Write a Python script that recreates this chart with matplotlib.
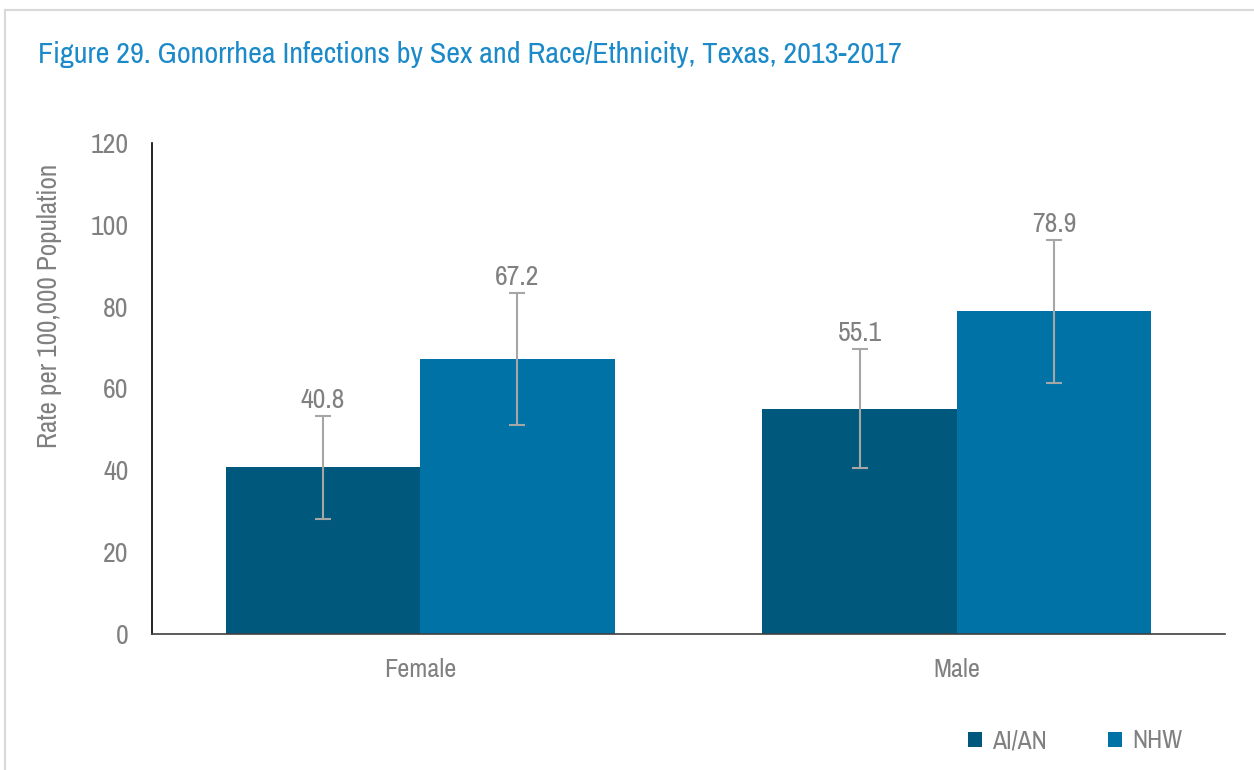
import matplotlib
matplotlib.use("Agg")
import matplotlib.pyplot as plt
from matplotlib.lines import Line2D
from matplotlib import font_manager
import numpy as np

categories = ["Female", "Male"]
series = ["AI/AN", "NHW"]
aian_values = [40.8, 55.1]
nhw_values = [67.2, 78.9]
aian_low = [28.2, 40.5]
aian_high = [53.3, 69.6]
nhw_low = [51.1, 61.4]
nhw_high = [83.3, 96.3]
yticks = [0, 20, 40, 60, 80, 100, 120]

names = sorted({f.name for f in font_manager.fontManager.ttflist})
narrow = [n for n in names if "Narrow" in n or "Condensed" in n]
fam = (narrow[:1] if narrow else []) + ['DejaVu Sans']
plt.rcParams['font.family'] = fam
plt.rcParams['font.stretch'] = 'condensed'

c_aian = "#00587C"
c_nhw = "#0072A6"
gray = "#808080"

fig = plt.figure(figsize=(12.54, 7.7), dpi=100)
fig.add_artist(Line2D([5/1254, 1], [1 - 10/770, 1 - 10/770], transform=fig.transFigure,
                      color="#D9D9D9", linewidth=1.5))
fig.add_artist(Line2D([5/1254, 5/1254], [0, 1 - 10/770], transform=fig.transFigure,
                      color="#D9D9D9", linewidth=1.5))
ax = fig.add_axes([152/1254, 1 - 634/770, (1225 - 152)/1254, (634 - 143)/770])

x = np.arange(len(categories))
w = 0.3625
b1 = ax.bar(x - w/2, aian_values, w, color=c_aian, label=series[0])
b2 = ax.bar(x + w/2, nhw_values, w, color=c_nhw, label=series[1])

for xs, vals, lo, hi in [(x - w/2, aian_values, aian_low, aian_high),
                         (x + w/2, nhw_values, nhw_low, nhw_high)]:
    vals = np.array(vals)
    yerr = np.array([vals - np.array(lo), np.array(hi) - vals])
    ax.errorbar(xs, vals, yerr=yerr, fmt="none", ecolor="#A6A6A6", elinewidth=1.5,
                capsize=6, capthick=1.5)
    for xi, v, h in zip(xs, vals, hi):
        ax.annotate(f"{v:.1f}", (xi, h), xytext=(0, 2), textcoords="offset points",
                    ha="center", va="bottom", fontsize=20, color=gray)

ax.set_xlim(-0.5, 1.5)
ax.set_ylim(0, 120)
ax.set_yticks(yticks)
ax.set_xticks(x)
ax.set_xticklabels(categories)
ax.tick_params(axis="y", length=0, labelsize=20, labelcolor=gray, pad=17)
ax.tick_params(axis="x", length=0, labelsize=19, labelcolor=gray, pad=17)
for s in ["top", "right"]:
    ax.spines[s].set_visible(False)
ax.spines["left"].set_color("black")
ax.spines["left"].set_linewidth(1.2)
ax.spines["bottom"].set_color("#404040")
ax.spines["bottom"].set_linewidth(1.2)
ax.set_ylabel("Rate per 100,000 Population", fontsize=19.5, color=gray)
ax.yaxis.set_label_coords(-0.0839, 0.668)

fig.text(38/1254, 1 - 55/770, "Figure 29. Gonorrhea Infections by Sex and Race/Ethnicity, Texas, 2013-2017",
         fontsize=21.75, color="#1C8AC9", va="center", ha="left")

leg = fig.legend(handles=[b1, b2], labels=series, loc="center right",
                 bbox_to_anchor=(1206/1254, 1 - 741/770), ncol=2, frameon=False,
                 fontsize=18.5, handlelength=0.55, handleheight=0.55, handletextpad=0.4,
                 columnspacing=2.4)
for t in leg.get_texts():
    t.set_color(gray)

fig.savefig("out.png", dpi=100)
